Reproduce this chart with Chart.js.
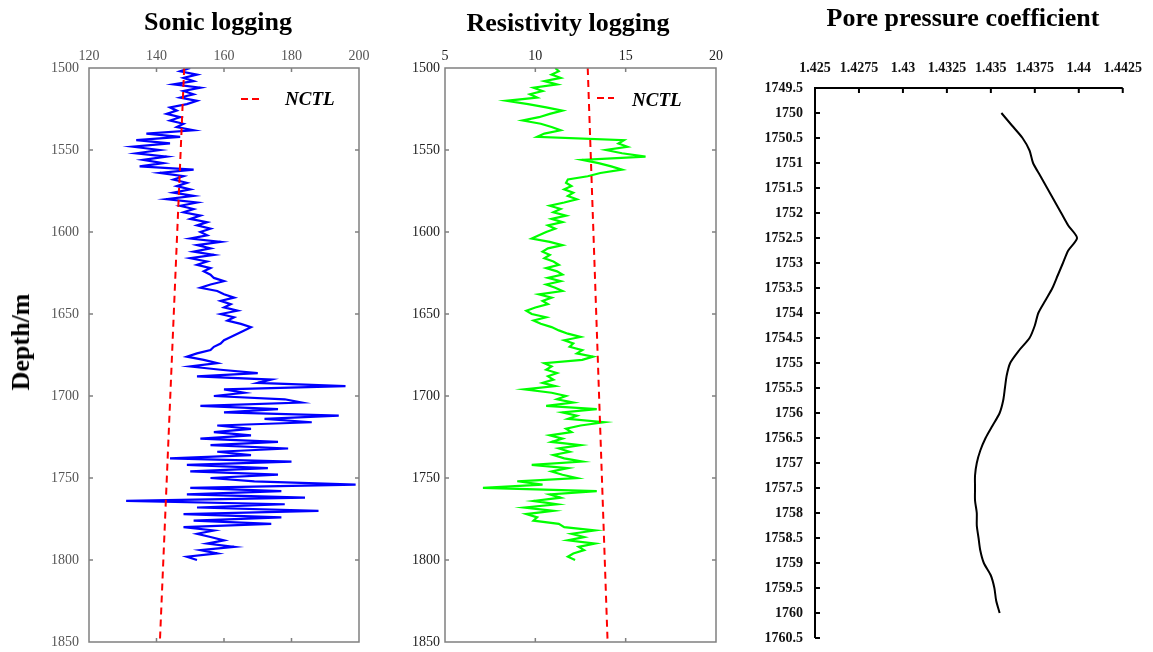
<!DOCTYPE html>
<html><head><meta charset="utf-8">
<script src="https://cdn.jsdelivr.net/npm/chart.js@4"></script>
<style>
html,body{margin:0;padding:0;background:#fff;}
body{width:1153px;height:652px;position:relative;overflow:hidden;font-family:"Liberation Serif","Times New Roman",serif;}
canvas{position:absolute;top:0;}
.t{position:absolute;font-weight:bold;font-size:26px;line-height:26px;white-space:nowrap;transform:translateX(-50%);color:#000;}
.v{position:absolute;font-weight:bold;font-size:26px;line-height:26px;white-space:nowrap;transform:translate(-50%,-50%) rotate(-90deg);color:#000;}
</style></head><body>
<canvas id="c1" width="380" height="652" style="left:0px"></canvas>
<canvas id="c2" width="360" height="652" style="left:380px"></canvas>
<canvas id="c3" width="413" height="652" style="left:740px"></canvas>
<div class="t" style="left:218px;top:9px">Sonic logging</div>
<div class="t" style="left:568px;top:10px">Resistivity logging</div>
<div class="t" style="left:963px;top:5px">Pore pressure coefficient</div>
<div class="v" style="left:21px;top:342px">Depth/m</div>
<script>
// ---------- data ----------
const depthTicks = [1500,1550,1600,1650,1700,1750,1800,1850];
const sonicTicks = [120,140,160,180,200];
const resTicks = [5,10,15,20];
const poreXTicks = [1.425,1.4275,1.43,1.4325,1.435,1.4375,1.44,1.4425];
const poreYTicks = [1749.5,1750,1750.5,1751,1751.5,1752,1752.5,1753,1753.5,1754,1754.5,1755,1755.5,1756,1756.5,1757,1757.5,1758,1758.5,1759,1759.5,1760,1760.5];

const logStart = 1500;   // m, first sample depth
const logStep = 2;       // m, sample interval

const sonicValues = [
  150,147,152,148,151,145,153,148,151,147,
  152,149,144,146,143,147,144,148,146,151,
  137,147,134,144,133,141,134,143,136,142,
  135,151,141,148,145,149,146,150,145,151,
  143,152,147,151,148,153,150,155,152,156,
  153,155,150,159,152,156,151,157,150,155,
  152,156,154,156,157,160,156,153,158,160,
  163,159,162,160,164,159,163,161,165,168,
  166,164,162,160,159,157,156,152,149,154,
  158,150,159,170,152,174,170,196,160,166,
  157,178,183,153,176,160,194,172,186,158,
  168,157,168,153,176,156,179,158,168,144,
  180,149,173,150,176,156,169,199,150,177,
  149,184,131,178,152,188,148,177,151,174,
  148,157,152,156,160,155,163,153,158,149,
  152
];

const resValues = [
  11.1,11.3,10.9,11.4,10.5,11.2,9.9,10.4,9.7,10.1,
  8.4,9.6,10.6,11.5,10.8,10.2,9.3,10.3,10.9,11.4,
  10.5,10.1,14.9,14.6,15.1,13.9,14.8,16.1,12.6,13.5,
  14.2,14.8,13.6,12.9,11.8,11.7,12.0,11.6,12.1,11.8,
  12.3,11.6,10.8,11.4,11.0,11.7,10.9,11.5,10.7,11.1,
  10.6,10.2,9.8,10.8,11.5,10.7,10.4,10.8,10.5,11.0,
  11.3,10.6,11.2,11.5,10.7,11.4,10.6,11.1,11.5,10.2,
  10.9,10.4,10.7,10.0,9.5,9.8,10.6,9.9,10.3,10.9,
  11.3,11.8,12.5,11.6,12.1,11.9,12.6,12.3,13.2,12.6,
  10.5,10.9,10.6,11.2,10.7,11.0,10.4,11.1,9.4,10.9,
  11.7,11.2,12.1,10.6,13.4,11.5,12.3,11.8,13.8,12.5,
  11.7,12.0,10.8,11.5,10.9,12.5,11.3,11.9,11.0,11.6,
  12.6,9.8,11.8,10.9,11.5,12.3,9.0,10.4,7.1,13.4,
  10.8,11.4,9.9,11.2,9.4,11.0,9.5,10.1,9.9,11.3,
  11.6,13.3,12.0,12.7,11.8,13.3,12.4,12.7,12.1,11.8,
  12.2
];

const nctlDepth = [1500, 1850];
const sonicNctl = [148.2, 141.0];
const resNctl = [12.9, 14.0];

const poreDepth = [1750,1750.25,1750.5,1750.75,1751,1751.25,1751.5,1751.75,1752,1752.25,1752.5,1752.75,1753,1753.25,1753.5,1753.75,1754,1754.25,1754.5,1754.75,1755,1755.25,1755.5,1755.75,1756,1756.25,1756.5,1756.75,1757,1757.25,1757.5,1757.75,1758,1758.25,1758.5,1758.75,1759,1759.25,1759.5,1759.75,1760];
const poreValues = [1.4356,1.4362,1.4368,1.4372,1.4374,1.4378,1.4382,1.4386,1.4390,1.4394,1.4399,1.4394,1.4391,1.4388,1.4385,1.4381,1.4377,1.4375,1.4372,1.4366,1.4361,1.4359,1.4358,1.4357,1.4355,1.4351,1.4347,1.4344,1.4342,1.4341,1.4341,1.4341,1.4342,1.4342,1.4343,1.4344,1.4346,1.4350,1.4352,1.4353,1.4355];

// ---------- helpers ----------
const SERIF = '"Liberation Serif","Times New Roman",serif';
function fixedTicks(arr){ return function(scale){ scale.ticks = arr.map(v => ({value: v})); }; }
function fitWidth(w){ return function(s){ s.width = w; s.paddingTop = 0; s.paddingBottom = 0; }; }
function fitHeight(h){ return function(s){ s.height = h; }; }
function logPoints(vals){ return vals.map((v,i) => ({x: v, y: logStart + i*logStep})); }
function pairPoints(xs, ys){ return xs.map((v,i) => ({x: v, y: ys[i]})); }
const plain = v => String(v);

function framePlugin(color, lw, tl){
  return { id:'frame', afterDatasetsDraw(chart){
    const {ctx, chartArea:a, scales:{x, y}} = chart;
    ctx.save();
    ctx.strokeStyle = color; ctx.lineWidth = lw; ctx.setLineDash([]);
    ctx.beginPath();
    ctx.rect(a.left, a.top, a.right-a.left, a.bottom-a.top);
    x.ticks.forEach(t => { const p = x.getPixelForValue(t.value);
      ctx.moveTo(p, a.top); ctx.lineTo(p, a.top+tl);
      ctx.moveTo(p, a.bottom); ctx.lineTo(p, a.bottom-tl); });
    y.ticks.forEach(t => { const p = y.getPixelForValue(t.value);
      ctx.moveTo(a.left, p); ctx.lineTo(a.left+tl, p);
      ctx.moveTo(a.right, p); ctx.lineTo(a.right-tl, p); });
    ctx.stroke();
    ctx.restore();
  }};
}
function legendPlugin(dx1, dx2, dy, tx, ty){
  return { id:'nctlLegend', afterDraw(chart){
    const {ctx, chartArea:a} = chart;
    ctx.save();
    ctx.strokeStyle = '#ff0000'; ctx.lineWidth = 2; ctx.setLineDash([7,4]);
    ctx.beginPath(); ctx.moveTo(a.left+dx1, a.top+dy); ctx.lineTo(a.left+dx2, a.top+dy); ctx.stroke();
    ctx.setLineDash([]);
    ctx.fillStyle = '#000'; ctx.font = 'italic bold 19px ' + SERIF;
    ctx.textBaseline = 'middle'; ctx.textAlign = 'left';
    ctx.fillText('NCTL', a.left+tx, a.top+ty);
    ctx.restore();
  }};
}

function logChart(id, xmin, xmax, xticks, vals, nctl, color, yw, rightPad, tickColor, yPad, legend){
  return new Chart(document.getElementById(id), {
    type: 'scatter',
    data: { datasets: [
      { label:'NCTL', data: pairPoints(nctl, nctlDepth), showLine:true, borderColor:'#ff0000', borderWidth:2, borderDash:[7,5], pointRadius:0, order:0 },
      { label:'log', data: logPoints(vals), showLine:true, borderColor: color, borderWidth:2.2, pointRadius:0, tension:0, order:1 }
    ]},
    options: {
      responsive:false, animation:false, events:[],
      layout:{ padding:{ left:0, right:rightPad, top:0, bottom:10 } },
      plugins:{ legend:{display:false}, tooltip:{enabled:false} },
      scales:{
        x:{ type:'linear', position:'top', min:xmin, max:xmax,
            afterBuildTicks: fixedTicks(xticks), afterFit: fitHeight(68),
            grid:{display:false, drawTicks:false}, border:{display:false},
            ticks:{ padding:3, color:tickColor, font:{family:SERIF, size:14}, maxRotation:0, autoSkip:false, callback: plain } },
        y:{ type:'linear', reverse:true, min:1500, max:1850,
            afterBuildTicks: fixedTicks(depthTicks), afterFit: fitWidth(yw),
            grid:{display:false, drawTicks:false}, border:{display:false},
            ticks:{ padding:yPad, color:tickColor, font:{family:SERIF, size:14}, autoSkip:false, callback: plain } }
      }
    },
    plugins: [ framePlugin('#808080', 1.5, 4), legend ]
  });
}

logChart('c1', 120, 200, sonicTicks, sonicValues, sonicNctl, '#0000ff', 89, 21, '#555555', 10, legendPlugin(152,170,31,196,32));
logChart('c2', 5, 20, resTicks, resValues, resNctl, '#00ff00', 65, 24, '#222222', 5, legendPlugin(152,169,30,187,33));

// ---------- pore pressure chart ----------
const poreAxes = { id:'poreAxes', afterDatasetsDraw(chart){
  const {ctx, chartArea:a, scales:{x, y}} = chart;
  ctx.save(); ctx.strokeStyle = '#000'; ctx.lineWidth = 2;
  ctx.beginPath();
  ctx.moveTo(a.left, a.bottom); ctx.lineTo(a.left, a.top); ctx.lineTo(a.right, a.top);
  x.ticks.forEach(t => { const p = x.getPixelForValue(t.value); ctx.moveTo(p, a.top); ctx.lineTo(p, a.top+5); });
  y.ticks.forEach(t => { const p = y.getPixelForValue(t.value); ctx.moveTo(a.left, p); ctx.lineTo(a.left+5, p); });
  ctx.stroke(); ctx.restore();
}};

new Chart(document.getElementById('c3'), {
  type:'scatter',
  data:{ datasets:[ { label:'Pore pressure coefficient', data: pairPoints(poreValues, poreDepth), showLine:true, borderColor:'#000', borderWidth:2, pointRadius:0, tension:0.25 } ] },
  options:{
    responsive:false, animation:false, events:[],
    layout:{ padding:{ left:0, right:26, top:0, bottom:14 } },
    plugins:{ legend:{display:false}, tooltip:{enabled:false} },
    scales:{
      x:{ type:'linear', position:'top', min:1.425, max:1.4425,
          afterBuildTicks: fixedTicks(poreXTicks), afterFit: fitHeight(88),
          grid:{display:false, drawTicks:false}, border:{display:false},
          ticks:{ padding:11, color:'#111', font:{family:SERIF, size:14, weight:'bold'}, maxRotation:0, autoSkip:false, callback: plain } },
      y:{ type:'linear', reverse:true, min:1749.5, max:1760.5,
          afterBuildTicks: fixedTicks(poreYTicks), afterFit: fitWidth(75),
          grid:{display:false, drawTicks:false}, border:{display:false},
          ticks:{ padding:12, color:'#111', font:{family:SERIF, size:14, weight:'bold'}, autoSkip:false, callback: plain } }
    }
  },
  plugins:[poreAxes]
});
</script>
</body></html>
